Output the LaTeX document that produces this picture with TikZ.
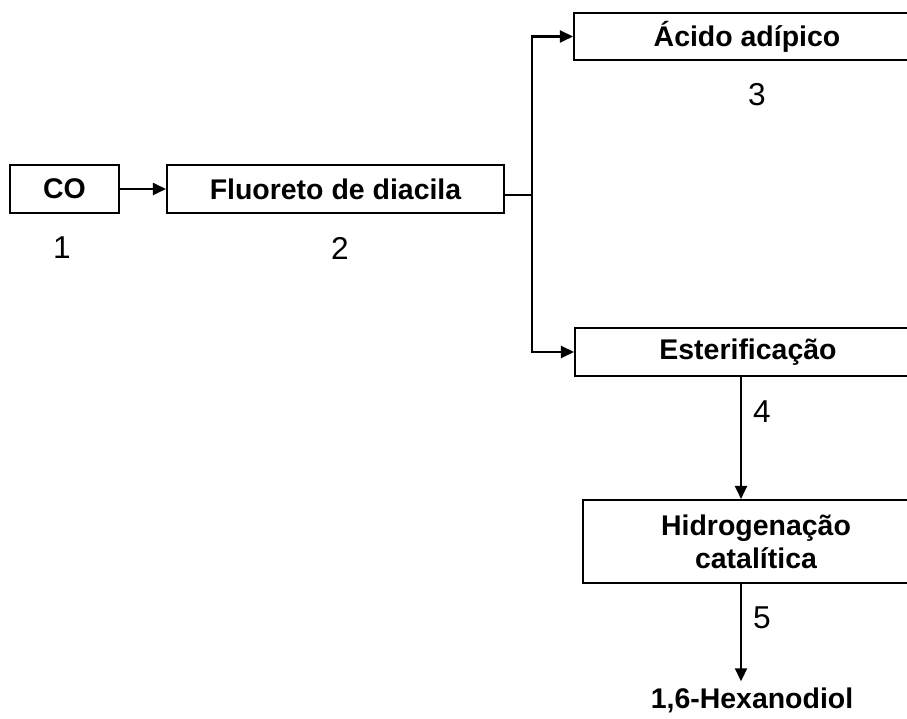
\documentclass[tikz,border=0pt]{standalone}
\usepackage{fontspec}
\setmainfont{Liberation Sans}
\usetikzlibrary{arrows.meta,positioning}
\tikzset{caixa/.style={draw,line width=1.2pt,inner sep=0pt,align=center,font=\bfseries\fontsize{16.2}{18.7}\selectfont},
rotulo/.style={font=\bfseries\fontsize{16.2}{18.7}\selectfont},
num/.style={font=\fontsize{18}{20}\selectfont}}

\begin{document}
\begin{tikzpicture}[x=0.02cm,y=-0.02cm]
\useasboundingbox (0,0) rectangle (907,719);
\clip (0,0) rectangle (907,719);
\node[caixa,minimum width=2.18cm,minimum height=0.96cm] (CO) at (64.5,189) {CO};
\node[caixa,minimum width=6.74cm,minimum height=0.96cm] (F) at (335.5,189) {Fluoreto de diacila};
\node[caixa,minimum width=6.92cm,minimum height=0.94cm] (A) at (747,36.5) {Ácido adípico};
\node[caixa,minimum width=6.92cm,minimum height=0.96cm] (E) at (748,352) {Esterificação};
\node[caixa,minimum width=6.92cm,minimum height=1.66cm] (H) at (756,541.5) {Hidrogenação\\catalítica};
\node[rotulo] (P) at (752,700) {1,6-Hexanodiol};
\node[num] (n1) at (62,248) {1};
\node[num] (n2) at (340,248) {2};
\node[num] (n3) at (757,95) {3};
\node[num] (n4) at (762,412) {4};
\node[num] (n5) at (762,618) {5};
\coordinate (S) at (532,195);
\coordinate (V) at (741,0);
\draw[line width=1pt] (F.east |- S) -- (S);
\path[->,line width=1.2pt,>={Triangle[length=0.26cm,width=0.24cm]}]
(CO) edge (F)
(S) edge[to path={|- (\tikztotarget)}] (A)
(S) edge[to path={|- (\tikztotarget)}] (E)
(E.south -| V) edge (H.north -| V)
(H.south -| V) edge (P.north -| V);
\end{tikzpicture}
\end{document}
